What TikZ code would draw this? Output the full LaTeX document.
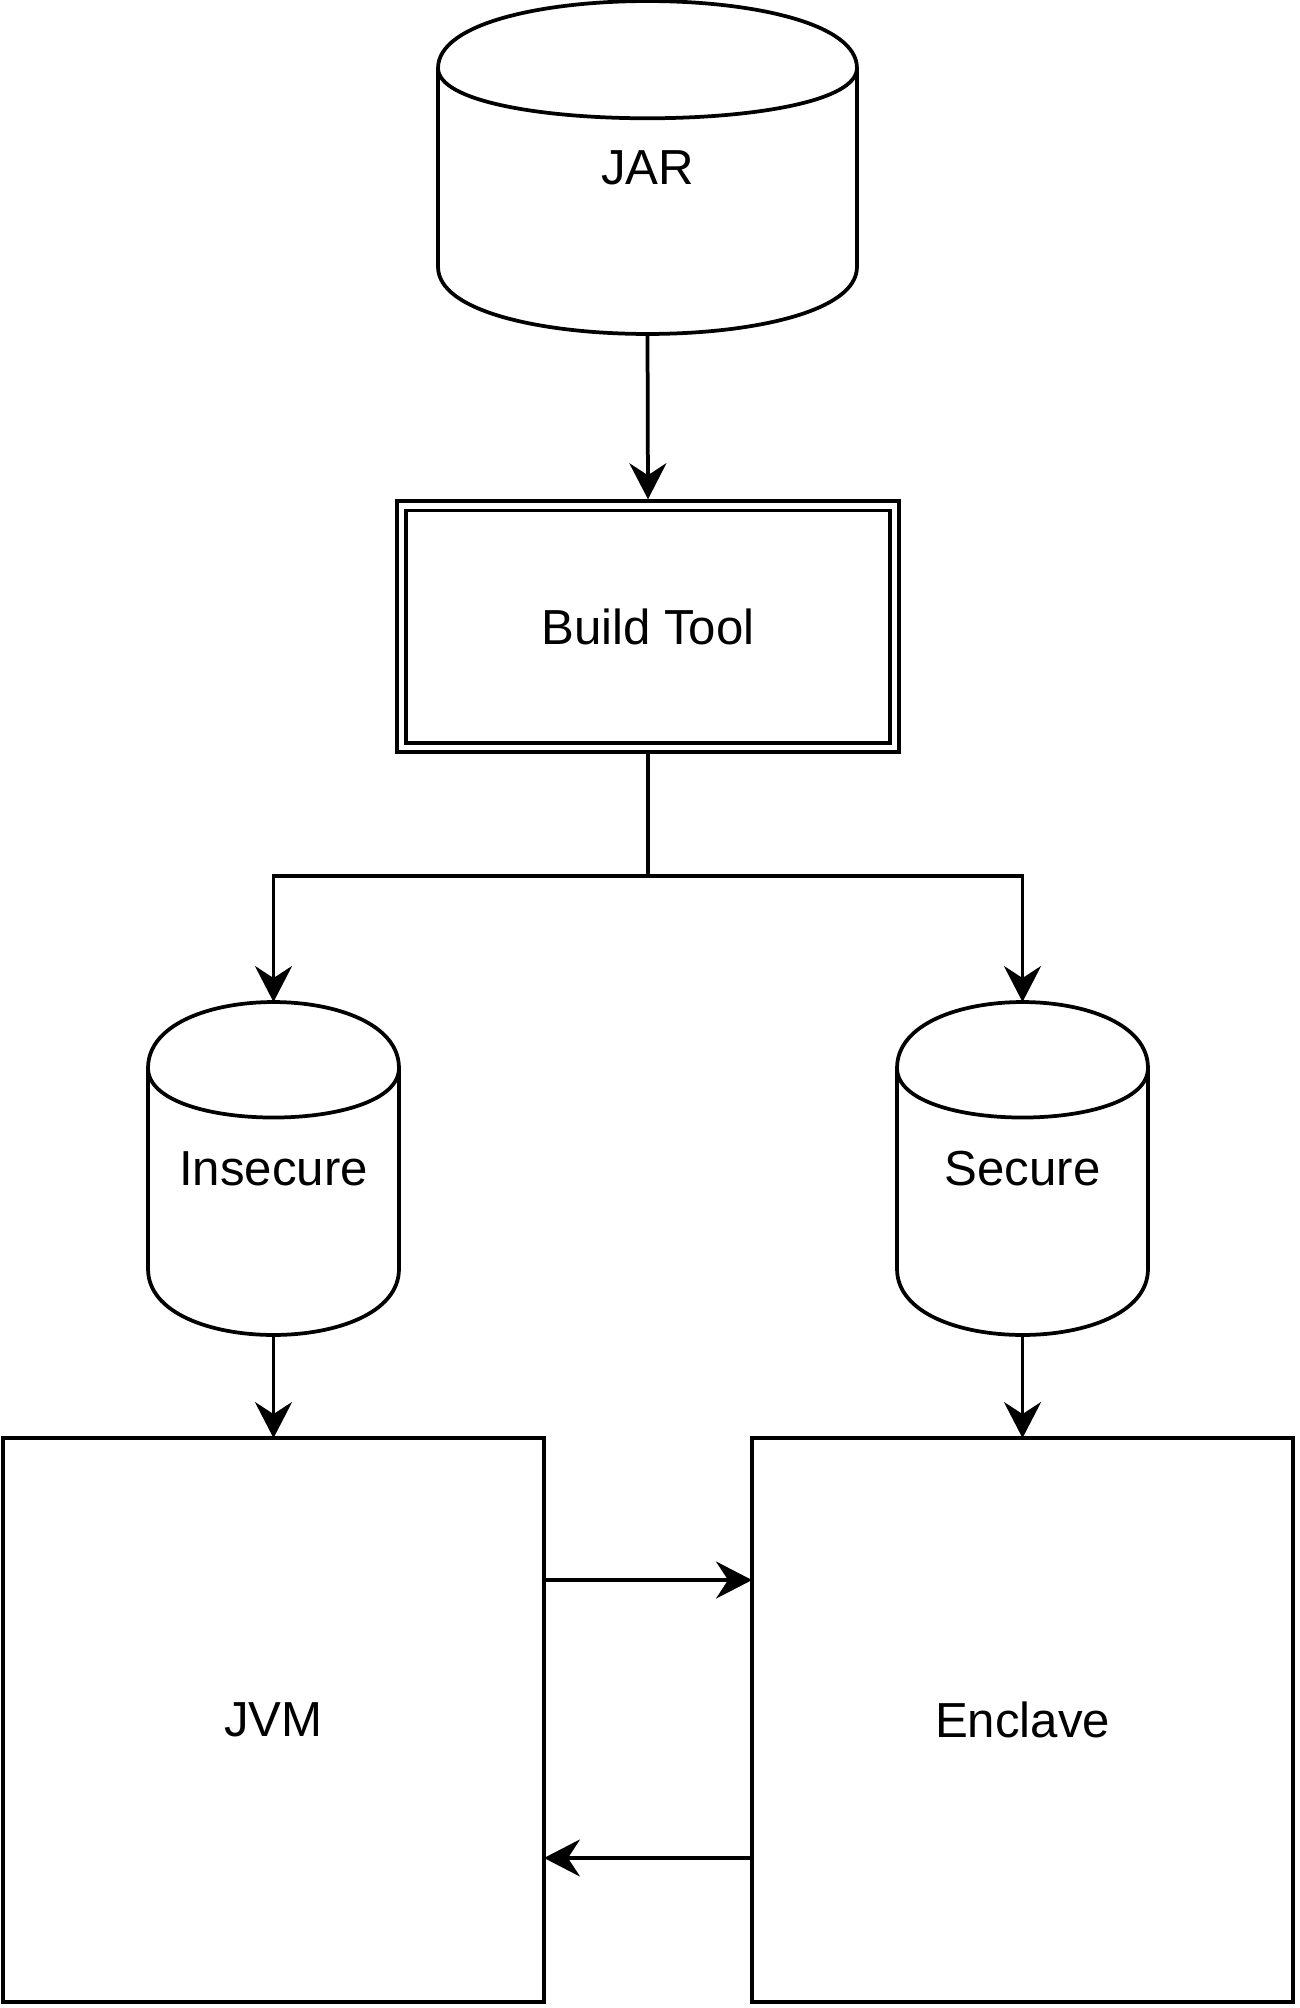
\documentclass[tikz,border=0pt]{standalone}
\usepackage{fontspec}
\setmainfont{Liberation Sans}
\usetikzlibrary{arrows.meta}
\usetikzlibrary{calc}

% outline of an upright drum round a node; #2 = depth of the cap
\newcommand{\drumoutline}[2]{%
  \draw[line join=round]
    ($(#1.north west)+(0,#2)$) .. controls ($(#1.north west)+(0,-#2/3)$) and ($(#1.north east)+(0,-#2/3)$) .. ($(#1.north east)+(0,#2)$)
    -- ($(#1.south east)+(0,-#2)$) .. controls ($(#1.south east)+(0,#2/3)$) and ($(#1.south west)+(0,#2/3)$) .. ($(#1.south west)+(0,-#2)$)
    -- cycle;
  \draw ($(#1.north west)+(0,#2)$) .. controls ($(#1.north west)+(0,2*#2)$) and ($(#1.north east)+(0,2*#2)$) .. ($(#1.north east)+(0,#2)$);
}

\begin{document}
\begin{tikzpicture}[x=0.02cm, y=-0.02cm, line width=0.075cm,
    every node/.style={font=\fontsize{28}{34}\selectfont, inner sep=0pt, outer sep=0pt},
    store/.style={rectangle, minimum height=6.66cm},
    flow/.style={-{Stealth[length=0.72cm, width=0.74cm, inset=0.24cm]}}]
  \useasboundingbox (0,0) rectangle (1300,2008);

  \node[store, minimum width=8.38cm] (jar) at (647.5,167.5) {JAR};
  \node[draw, rectangle, double, double distance=0.11cm, minimum width=9.855cm, minimum height=4.835cm, outer sep=0.13cm] (build) at (648,626.6) {Build Tool};
  \node[store, minimum width=5.02cm] (insecure) at (273.5,1168.5) {Insecure};
  \node[store, minimum width=5.02cm] (secure) at (1022.5,1168.5) {Secure};
  \node[draw, rectangle, minimum width=10.82cm, minimum height=11.28cm] (jvm) at (273.5,1720) {JVM};
  \node[draw, rectangle, minimum width=10.82cm, minimum height=11.28cm] (enclave) at (1022.5,1720) {Enclave};
  \coordinate (fork) at (648,876);

  \drumoutline{jar}{67}
  \drumoutline{insecure}{66}
  \drumoutline{secure}{66}

  \draw[flow] (jar.south) -- (build.north);
  \draw (build.south) -- (fork);
  \draw[flow] (fork) -| (insecure.north);
  \draw[flow] (fork) -| (secure.north);
  \draw[flow] (insecure.south) -- (jvm.north);
  \draw[flow] (secure.south) -- (enclave.north);
  \draw[flow] ([yshift=2.8cm]jvm.east) -- ([yshift=2.8cm]enclave.west);
  \draw[flow] ([yshift=-2.76cm]enclave.west) -- ([yshift=-2.76cm]jvm.east);
\end{tikzpicture}
\end{document}
